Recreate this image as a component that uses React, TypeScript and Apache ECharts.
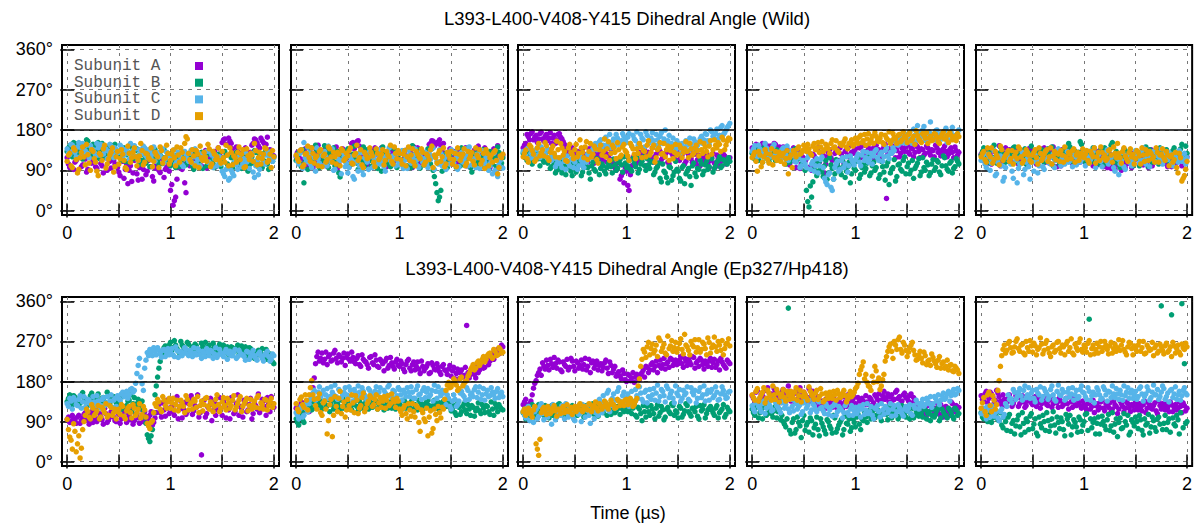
import React, { useEffect, useRef } from "react";
import * as echarts from "echarts";

// ---------- texts / categories ----------
const TITLES = [
  "L393-L400-V408-Y415 Dihedral Angle (Wild)",
  "L393-L400-V408-Y415 Dihedral Angle (Ep327/Hp418)",
];
const X_NAME = "Time (\u00b5s)";
const SUBUNITS = ["Subunit A", "Subunit B", "Subunit C", "Subunit D"];
const COLORS = ["#9400d3", "#009e73", "#56b4e9", "#e69f00"];
const X_TICKS = [0, 0.5, 1, 1.5, 2];
const X_LABELS = [0, 1, 2];
const Y_TICKS = [0, 90, 180, 270, 360];
const REF_ANGLE = 180;
const TIME_STEP = 0.025; // µs between samples; "...2" arrays are the samples half a step later

// ---------- Wild, panel 1 ----------
const w1A = [118, 96, 130, 108, 88, 125, 102, 115, 92, 135, 110, 98, 122, 105, 84, 118, 128, 95, 112, 100,
  86, 118, 72, 104, 90, 65, 112, 82, 96, 70, 108, 88, 124, 76, 95, 102, 85, 114, 92, 100,
  45, 12, 30, 96, 118, 104, 40, 122, 108, 96, 130, 112, 100, 125, 95, 118, 108, 132, 115, 126,
  152, 160, 146, 155, 138, 120, 132, 110, 124, 140, 118, 130, 150, 158, 145, 162, 152, 148, 128, 116, 122];
const w1A2 = [104, 124, 92, 112, 136, 98, 120, 86, 128, 106, 116, 94, 132, 100, 122, 90, 110, 126, 104, 96,
  78, 110, 92, 60, 100, 84, 118, 68, 104, 92, 80, 112, 98, 66, 106, 90, 118, 74, 96, 88,
  58, 22, 70, 110, 92, 62, 124, 100, 114, 128, 106, 120, 96, 134, 112, 104, 122, 98, 140, 118,
  158, 148, 162, 150, 126, 142, 114, 128, 106, 134, 124, 146, 160, 152, 140, 156, 148, 164, 136, 124];
const w1B = [132, 145, 120, 150, 128, 138, 115, 142, 155, 130, 148, 125, 152, 136, 118, 140, 128, 146, 122, 135,
  130, 112, 140, 125, 108, 132, 118, 138, 104, 126, 115, 130, 98, 120, 136, 110, 124, 105, 118, 128,
  100, 112, 96, 120, 106, 118, 102, 125, 110, 92, 120, 104, 130, 115, 100, 126, 112, 96, 122, 108,
  118, 132, 104, 125, 95, 114, 128, 100, 120, 110, 88, 124, 106, 130, 98, 118, 112, 126, 92, 115, 120];
const w1B2 = [140, 124, 152, 134, 118, 146, 128, 158, 136, 122, 144, 132, 116, 150, 126, 142, 134, 120, 148, 130,
  122, 138, 110, 128, 144, 116, 134, 122, 112, 140, 106, 124, 132, 114, 128, 102, 120, 136, 110, 126,
  118, 106, 124, 98, 114, 130, 108, 120, 100, 126, 112, 118, 94, 122, 108, 132, 104, 118, 126, 98,
  110, 124, 96, 118, 106, 130, 112, 94, 126, 116, 102, 120, 134, 108, 124, 96, 130, 104, 118, 110];
const w1C = [138, 125, 146, 130, 142, 120, 150, 134, 128, 145, 136, 122, 140, 148, 126, 138, 132, 144, 118, 136,
  130, 142, 124, 138, 115, 132, 145, 120, 136, 128, 140, 118, 134, 126, 110, 130, 122, 138, 116, 128,
  112, 125, 104, 130, 118, 98, 126, 110, 135, 120, 105, 128, 114, 122, 132, 108, 124, 116, 100, 120,
  88, 76, 95, 72, 84, 110, 92, 125, 105, 130, 115, 120, 86, 100, 80, 118, 108, 124, 112, 132, 118];
const w1C2 = [128, 148, 134, 120, 152, 140, 126, 146, 118, 138, 130, 150, 124, 142, 134, 116, 148, 126, 140, 130,
  146, 120, 136, 128, 150, 124, 138, 112, 130, 144, 122, 136, 116, 142, 126, 120, 134, 108, 130, 122,
  118, 136, 110, 124, 102, 132, 116, 128, 106, 138, 114, 100, 126, 118, 108, 130, 96, 124, 112, 104,
  82, 92, 68, 90, 78, 102, 120, 98, 116, 108, 94, 128, 74, 112, 92, 122, 104, 130, 118, 110];
const w1D = [110, 128, 96, 135, 84, 118, 142, 102, 125, 90, 132, 108, 78, 124, 138, 95, 115, 130, 86, 120,
  104, 136, 112, 92, 128, 118, 140, 100, 122, 134, 108, 126, 114, 98, 130, 120, 142, 106, 118, 128,
  112, 135, 100, 124, 140, 116, 165, 128, 108, 122, 134, 96, 118, 130, 110, 138, 104, 126, 120, 112,
  132, 108, 124, 140, 102, 118, 130, 114, 136, 98, 122, 128, 110, 134, 118, 104, 126, 138, 112, 96, 120];
const w1D2 = [124, 100, 140, 114, 92, 130, 120, 148, 106, 136, 116, 88, 128, 112, 146, 104, 124, 140, 98, 132,
  116, 126, 96, 144, 108, 130, 120, 112, 150, 102, 128, 118, 140, 110, 124, 96, 134, 116, 146, 104,
  126, 118, 142, 108, 130, 150, 160, 114, 136, 100, 126, 144, 112, 120, 148, 98, 132, 114, 140, 106,
  118, 146, 100, 130, 122, 108, 142, 126, 96, 138, 114, 124, 150, 102, 130, 116, 140, 108, 126, 134];

// ---------- Wild, panel 2 ----------
const w2A = [120, 108, 132, 115, 98, 128, 140, 112, 104, 125, 118, 135, 102, 122, 110, 130, 95, 126, 138, 114,
  106, 124, 152, 148, 156, 130, 112, 120, 100, 135, 118, 126, 108, 140, 115, 98, 124, 132, 110, 120,
  128, 104, 118, 136, 112, 96, 125, 140, 108, 122, 130, 116, 150, 155, 148, 153, 146, 150, 120, 110,
  118, 132, 105, 124, 138, 112, 100, 128, 116, 135, 122, 108, 126, 140, 114, 96, 130, 118, 145, 112, 124];
const w2A2 = [130, 116, 104, 138, 124, 112, 96, 130, 146, 108, 122, 100, 136, 116, 128, 142, 106, 118, 124, 132,
  98, 150, 138, 154, 144, 118, 134, 106, 126, 112, 140, 104, 120, 132, 110, 126, 102, 138, 124, 116,
  108, 132, 122, 98, 128, 142, 112, 120, 134, 104, 126, 148, 156, 144, 152, 158, 132, 114, 126, 138,
  104, 120, 132, 110, 126, 140, 118, 96, 130, 112, 144, 120, 106, 132, 124, 110, 138, 98, 126, 118];
const w2B = [112, 130, 98, 62, 125, 140, 108, 118, 135, 96, 122, 145, 104, 128, 114, 100, 132, 75, 120, 110,
  138, 102, 126, 116, 92, 130, 142, 108, 118, 98, 124, 136, 110, 88, 128, 115, 104, 140, 120, 96,
  126, 112, 134, 100, 118, 145, 108, 122, 95, 130, 114, 138, 104, 90, 60, 22, 45, 118, 128, 106,
  134, 112, 96, 124, 140, 102, 118, 130, 86, 122, 108, 136, 114, 98, 126, 132, 104, 120, 142, 110, 118];
const w2B2 = [120, 104, 136, 110, 92, 128, 116, 146, 102, 124, 112, 134, 96, 118, 140, 108, 84, 126, 114, 132,
  100, 120, 144, 106, 128, 112, 98, 136, 122, 110, 132, 94, 120, 142, 108, 126, 98, 116, 134, 112,
  104, 128, 118, 140, 96, 124, 110, 136, 116, 102, 126, 118, 138, 76, 40, 30, 88, 112, 96, 124,
  108, 130, 118, 100, 126, 112, 140, 96, 114, 128, 104, 120, 136, 110, 92, 124, 116, 98, 130, 106];
const w2C = [122, 104, 136, 152, 110, 128, 96, 118, 140, 106, 124, 132, 100, 115, 138, 92, 126, 112, 130, 98,
  84, 120, 76, 108, 88, 130, 80, 114, 92, 126, 118, 104, 136, 110, 98, 122, 140, 106, 116, 128,
  102, 134, 112, 94, 126, 118, 138, 100, 122, 108, 130, 96, 114, 140, 120, 104, 128, 110, 92, 124,
  136, 106, 118, 98, 130, 114, 122, 142, 102, 116, 126, 94, 134, 108, 120, 100, 82, 90, 76, 112, 95];
const w2C2 = [110, 128, 94, 118, 142, 104, 124, 88, 116, 132, 100, 120, 144, 108, 90, 126, 114, 82, 120, 106,
  96, 112, 70, 124, 100, 90, 118, 108, 132, 96, 112, 126, 104, 118, 88, 130, 112, 122, 100, 110,
  128, 94, 120, 136, 106, 124, 112, 96, 132, 116, 104, 128, 120, 92, 110, 136, 100, 118, 126, 104,
  114, 130, 92, 120, 108, 138, 100, 126, 112, 96, 122, 134, 104, 118, 90, 110, 128, 86, 102, 120];
const w2D = [124, 110, 136, 102, 128, 118, 140, 106, 122, 132, 98, 126, 114, 138, 108, 120, 130, 100, 134, 116,
  122, 140, 104, 128, 112, 136, 96, 124, 118, 130, 108, 138, 114, 126, 102, 132, 120, 110, 142, 116,
  128, 104, 134, 120, 112, 138, 100, 126, 116, 130, 108, 122, 136, 96, 118, 128, 110, 140, 104, 124,
  132, 114, 98, 126, 120, 138, 106, 116, 130, 102, 124, 136, 112, 94, 128, 118, 108, 134, 82, 122, 126];
const w2D2 = [116, 134, 98, 126, 144, 110, 128, 118, 100, 136, 122, 108, 142, 120, 130, 104, 126, 138, 112, 128,
  134, 106, 124, 146, 118, 102, 130, 116, 140, 122, 98, 128, 118, 136, 112, 124, 146, 104, 128, 134,
  114, 126, 100, 142, 124, 108, 132, 120, 138, 102, 126, 114, 144, 124, 106, 134, 120, 98, 130, 116,
  104, 128, 140, 112, 126, 100, 132, 122, 110, 140, 118, 104, 128, 136, 100, 124, 130, 112, 96, 118];

// ---------- Wild, panel 3 ----------
const w3A = [140, 150, 165, 172, 158, 168, 160, 175, 155, 170, 162, 150, 168, 158, 172, 160, 148, 135, 128, 140,
  120, 132, 115, 138, 125, 108, 130, 142, 118, 126, 135, 112, 128, 120, 138, 104, 90, 115, 78, 62,
  88, 45, 100, 122, 110, 130, 118, 136, 125, 112, 140, 120, 106, 132, 118, 126, 108, 135, 122, 114,
  128, 120, 138, 110, 126, 116, 132, 104, 124, 118, 112, 128, 96, 118, 106, 124, 100, 115, 122, 108, 118];
const w3A2 = [146, 170, 158, 176, 164, 152, 172, 160, 166, 156, 174, 162, 150, 170, 164, 154, 140, 126, 132, 118,
  128, 110, 134, 122, 116, 138, 120, 106, 130, 116, 124, 140, 108, 126, 114, 96, 106, 70, 84, 96,
  56, 80, 118, 104, 128, 112, 124, 100, 130, 118, 108, 126, 138, 114, 120, 130, 104, 128, 116, 136,
  112, 124, 104, 130, 120, 108, 126, 114, 100, 124, 118, 106, 112, 128, 98, 116, 110, 126, 104, 114];
const w3B = [128, 118, 135, 122, 110, 130, 116, 124, 108, 120, 112, 98, 105, 90, 116, 84, 102, 95, 110, 78,
  100, 92, 115, 86, 104, 96, 70, 108, 88, 112, 94, 100, 82, 106, 98, 115, 90, 108, 102, 120,
  96, 112, 88, 106, 118, 92, 110, 100, 116, 94, 108, 86, 98, 72, 104, 84, 62, 96, 78, 110,
  88, 66, 100, 82, 94, 56, 106, 76, 92, 104, 88, 110, 98, 116, 94, 108, 120, 100, 112, 104, 110];
const w3B2 = [122, 112, 128, 104, 118, 124, 100, 114, 128, 106, 94, 112, 84, 100, 92, 110, 80, 98, 88, 104,
  86, 108, 78, 96, 112, 84, 100, 92, 116, 80, 104, 88, 96, 110, 84, 102, 94, 114, 86, 106,
  100, 92, 116, 98, 84, 104, 120, 90, 102, 110, 80, 94, 106, 64, 88, 74, 98, 68, 86, 92,
  72, 96, 60, 88, 76, 100, 84, 94, 112, 80, 102, 92, 118, 86, 100, 112, 96, 114, 106, 118];
const w3C = [132, 122, 140, 128, 118, 136, 125, 142, 130, 120, 134, 112, 126, 104, 118, 96, 110, 122, 100, 115,
  108, 92, 120, 104, 112, 126, 118, 138, 150, 142, 158, 146, 164, 152, 140, 160, 170, 148, 156, 166,
  152, 172, 144, 160, 176, 150, 162, 142, 168, 154, 174, 146, 158, 166, 150, 180, 156, 144, 162, 136,
  150, 128, 142, 156, 134, 148, 160, 140, 152, 166, 158, 170, 148, 176, 162, 182, 168, 190, 174, 186, 195];
const w3C2 = [126, 138, 116, 134, 124, 140, 118, 132, 126, 138, 120, 116, 98, 112, 104, 118, 92, 106, 114, 96,
  118, 100, 112, 96, 108, 122, 130, 144, 136, 154, 140, 160, 146, 170, 154, 144, 162, 152, 172, 158,
  164, 150, 168, 156, 146, 170, 158, 176, 150, 162, 156, 170, 148, 174, 160, 152, 168, 150, 142, 156,
  140, 150, 134, 146, 162, 138, 154, 146, 160, 150, 172, 156, 180, 166, 172, 160, 186, 170, 180, 190];
const w3D = [120, 135, 108, 142, 126, 115, 150, 130, 122, 145, 112, 138, 128, 155, 118, 140, 132, 110, 148, 125,
  136, 120, 158, 130, 142, 114, 150, 126, 138, 106, 146, 132, 120, 154, 128, 140, 116, 136, 124, 148,
  130, 112, 144, 126, 138, 150, 118, 132, 146, 124, 140, 108, 136, 152, 128, 120, 144, 134, 116, 148,
  126, 140, 130, 154, 118, 138, 128, 146, 122, 136, 150, 132, 144, 126, 158, 140, 148, 164, 136, 155, 160];
const w3D2 = [128, 116, 146, 134, 110, 140, 122, 136, 152, 118, 130, 144, 120, 136, 150, 124, 112, 140, 130, 116,
  148, 128, 140, 118, 154, 132, 120, 144, 114, 136, 124, 160, 138, 112, 146, 130, 152, 120, 142, 134,
  122, 150, 138, 116, 128, 142, 134, 120, 156, 130, 146, 118, 140, 126, 150, 136, 112, 142, 130, 124,
  146, 118, 138, 132, 150, 124, 140, 134, 154, 128, 142, 120, 156, 136, 146, 152, 132, 158, 146, 162];

// ---------- Wild, panel 4 ----------
const w4A = [140, 128, 146, 134, 150, 122, 138, 144, 130, 148, 126, 136, 142, 118, 132, 110, 140, 96, 126, 104,
  134, 116, 128, 90, 122, 138, 108, 130, 84, 120, 136, 112, 128, 100, 140, 118, 132, 124, 145, 128,
  138, 120, 142, 132, 126, 140, 134, 118, 146, 136, 130, 142, 27, 138, 128, 144, 134, 120, 140, 132,
  146, 126, 138, 130, 142, 118, 136, 128, 140, 124, 134, 146, 130, 122, 138, 132, 126, 140, 118, 134, 130];
const w4A2 = [134, 148, 124, 140, 132, 146, 128, 136, 150, 120, 142, 130, 124, 138, 102, 128, 116, 134, 94, 120,
  110, 132, 98, 126, 114, 140, 88, 124, 104, 130, 118, 96, 136, 112, 126, 106, 138, 120, 130, 134,
  126, 140, 118, 146, 132, 124, 138, 144, 130, 120, 136, 148, 126, 132, 140, 118, 144, 128, 136, 142,
  130, 140, 120, 146, 132, 138, 124, 144, 130, 136, 120, 140, 134, 128, 144, 120, 136, 130, 142, 124];
const w4B = [128, 115, 140, 122, 108, 134, 126, 118, 142, 112, 130, 120, 136, 104, 126, 116, 132, 110, 122, 100,
  108, 45, 8, 30, 92, 78, 110, 86, 100, 70, 118, 94, 82, 106, 88, 112, 74, 98, 62, 104,
  90, 116, 80, 102, 94, 120, 84, 108, 96, 72, 110, 86, 100, 58, 92, 114, 76, 104, 88, 120,
  98, 82, 112, 94, 106, 78, 118, 90, 102, 84, 114, 96, 108, 80, 122, 100, 88, 110, 94, 116, 104];
const w4B2 = [120, 134, 112, 128, 140, 118, 110, 130, 124, 136, 114, 128, 118, 132, 108, 124, 138, 114, 126, 106,
  90, 20, 55, 64, 104, 88, 94, 76, 112, 84, 102, 70, 114, 96, 80, 100, 88, 108, 82, 94,
  110, 72, 96, 86, 106, 78, 100, 90, 116, 80, 98, 68, 108, 84, 96, 66, 102, 92, 112, 82,
  106, 90, 72, 100, 116, 86, 96, 108, 78, 104, 90, 112, 86, 100, 118, 92, 106, 84, 98, 110];
const w4C = [132, 145, 120, 138, 128, 150, 116, 136, 142, 124, 130, 118, 140, 126, 112, 134, 122, 108, 118, 100,
  112, 96, 124, 104, 88, 116, 100, 120, 72, 58, 84, 45, 96, 110, 92, 118, 104, 86, 122, 108,
  114, 126, 100, 132, 118, 108, 128, 122, 136, 112, 130, 120, 140, 116, 128, 134, 148, 160, 152, 172,
  158, 176, 150, 168, 190, 162, 180, 156, 170, 198, 164, 178, 154, 172, 166, 184, 158, 176, 168, 162, 180];
const w4C2 = [138, 126, 146, 122, 134, 140, 128, 120, 148, 130, 124, 136, 118, 144, 120, 128, 110, 126, 96, 112,
  104, 118, 92, 110, 100, 84, 114, 96, 64, 80, 52, 70, 104, 88, 112, 96, 120, 100, 114, 102,
  120, 108, 124, 112, 130, 116, 104, 132, 118, 126, 110, 134, 122, 130, 140, 154, 146, 166, 156, 150,
  170, 160, 182, 156, 174, 166, 188, 160, 176, 170, 158, 180, 168, 160, 178, 152, 170, 186, 164, 172];
const w4D = [118, 130, 88, 124, 108, 136, 114, 126, 102, 132, 120, 110, 128, 116, 82, 124, 134, 120, 142, 128,
  146, 132, 138, 124, 150, 140, 130, 154, 136, 144, 128, 158, 142, 134, 150, 146, 160, 138, 152, 144,
  162, 150, 168, 156, 146, 172, 158, 150, 166, 154, 170, 148, 162, 176, 156, 164, 150, 170, 158, 166,
  152, 174, 160, 148, 168, 156, 172, 162, 150, 166, 158, 170, 154, 164, 176, 160, 152, 168, 162, 156, 165];
const w4D2 = [124, 110, 132, 98, 120, 128, 106, 138, 118, 112, 130, 122, 104, 134, 118, 96, 128, 138, 126, 134,
  140, 148, 128, 144, 136, 152, 142, 132, 148, 138, 150, 140, 156, 130, 146, 154, 142, 150, 158, 148,
  156, 164, 152, 170, 160, 150, 166, 174, 156, 162, 152, 168, 158, 150, 172, 160, 168, 154, 176, 162,
  170, 156, 166, 178, 160, 152, 168, 174, 162, 156, 172, 164, 150, 170, 160, 168, 174, 158, 166, 172];

// ---------- Wild, panel 5 ----------
const w5A = [126, 112, 138, 120, 104, 132, 118, 145, 110, 128, 122, 136, 106, 124, 140, 114, 130, 118, 102, 126,
  134, 110, 122, 138, 116, 108, 128, 120, 142, 112, 126, 100, 132, 118, 124, 136, 110, 128, 120, 114,
  122, 130, 108, 124, 116, 102, 134, 120, 112, 96, 126, 104, 92, 118, 100, 110, 95, 124, 106, 128,
  118, 130, 112, 102, 124, 96, 136, 114, 108, 126, 120, 132, 104, 118, 98, 124, 112, 128, 100, 116, 120];
const w5A2 = [118, 130, 106, 124, 136, 112, 128, 100, 122, 140, 116, 108, 130, 120, 104, 134, 112, 126, 138, 116,
  122, 104, 130, 112, 140, 120, 106, 132, 118, 98, 124, 136, 110, 128, 116, 104, 130, 122, 108, 134,
  114, 126, 120, 100, 132, 112, 124, 98, 118, 108, 94, 116, 102, 124, 90, 114, 104, 120, 96, 112,
  126, 104, 120, 132, 108, 118, 100, 126, 114, 136, 106, 122, 98, 116, 130, 104, 120, 110, 124, 108];
const w5B = [124, 140, 112, 130, 118, 146, 106, 128, 136, 120, 110, 132, 124, 142, 116, 104, 128, 138, 112, 126,
  118, 134, 108, 130, 122, 114, 138, 126, 100, 132, 120, 112, 128, 136, 150, 118, 124, 106, 130, 148,
  116, 124, 132, 110, 126, 118, 104, 130, 140, 114, 122, 152, 108, 126, 96, 118, 134, 112, 124, 100,
  130, 116, 108, 126, 142, 98, 120, 132, 114, 104, 128, 118, 136, 110, 124, 140, 116, 130, 148, 122, 128];
const w5B2 = [132, 118, 128, 106, 138, 120, 114, 142, 126, 108, 130, 118, 140, 110, 126, 134, 120, 104, 130, 144,
  112, 126, 118, 136, 108, 128, 120, 142, 116, 124, 104, 134, 118, 128, 142, 110, 132, 120, 154, 126,
  108, 130, 118, 140, 114, 124, 136, 102, 126, 118, 146, 112, 132, 104, 124, 138, 116, 128, 108, 120,
  124, 100, 132, 114, 120, 136, 108, 126, 118, 140, 112, 130, 122, 106, 134, 126, 112, 138, 120, 144];
const w5C = [112, 128, 96, 120, 106, 134, 82, 118, 100, 74, 126, 110, 88, 122, 62, 104, 130, 92, 116, 70,
  108, 124, 84, 114, 98, 132, 118, 104, 126, 112, 138, 100, 122, 116, 108, 130, 120, 102, 126, 114,
  118, 132, 106, 124, 140, 112, 128, 98, 120, 136, 110, 124, 88, 116, 104, 130, 92, 118, 126, 108,
  134, 120, 112, 140, 104, 126, 116, 132, 108, 124, 138, 112, 120, 130, 106, 126, 116, 134, 110, 128, 118];
const w5C2 = [120, 104, 126, 90, 116, 78, 108, 122, 66, 96, 118, 104, 72, 112, 94, 120, 80, 108, 98, 124,
  88, 110, 100, 126, 92, 114, 106, 120, 96, 128, 110, 118, 104, 132, 112, 98, 124, 116, 108, 128,
  100, 120, 114, 132, 96, 124, 110, 116, 128, 104, 118, 96, 124, 80, 112, 98, 122, 108, 100, 118,
  126, 106, 132, 114, 120, 98, 128, 110, 122, 116, 104, 130, 114, 124, 100, 120, 108, 126, 116, 104];
const w5D = [120, 132, 108, 126, 140, 114, 124, 102, 136, 118, 128, 110, 134, 122, 116, 138, 106, 126, 130, 112,
  124, 136, 104, 128, 118, 132, 110, 140, 122, 114, 126, 134, 108, 120, 130, 116, 138, 124, 112, 128,
  118, 134, 106, 126, 140, 120, 112, 130, 124, 116, 136, 108, 128, 150, 118, 132, 122, 110, 138, 126,
  116, 130, 104, 124, 136, 112, 128, 120, 140, 108, 126, 118, 132, 100, 124, 114, 96, 128, 66, 78, 110];
const w5D2 = [128, 114, 140, 120, 106, 132, 118, 144, 112, 124, 134, 116, 104, 130, 142, 120, 112, 136, 124, 108,
  130, 118, 140, 112, 126, 136, 120, 104, 132, 128, 110, 124, 142, 114, 126, 134, 108, 130, 120, 138,
  126, 112, 132, 120, 106, 130, 142, 118, 112, 134, 124, 142, 118, 128, 106, 140, 116, 130, 120, 104,
  134, 122, 140, 110, 126, 132, 116, 108, 130, 124, 138, 112, 124, 120, 108, 130, 84, 118, 72, 92];

// ---------- Ep327/Hp418, panel 1 ----------
const e1A = [95, 88, 104, 92, 100, 86, 98, 110, 92, 104, 88, 116, 96, 102, 84, 108, 94, 112, 100, 90,
  106, 96, 114, 88, 102, 118, 92, 108, 86, 100, 112, 94, 104, 82, 98, 124, 110, 132, 102, 120,
  140, 112, 128, 96, 136, 118, 106, 130, 148, 114, 122, 100, 15, 138, 108, 126, 92, 134, 116, 144,
  104, 128, 120, 96, 138, 112, 150, 124, 100, 132, 116, 142, 108, 126, 152, 118, 136, 104, 130, 146, 122];
const e1A2 = [100, 90, 96, 86, 104, 92, 106, 96, 84, 112, 98, 90, 108, 94, 120, 88, 100, 106, 92, 114,
  86, 104, 98, 110, 94, 84, 106, 98, 118, 90, 102, 96, 112, 88, 110, 128, 100, 116, 138, 108,
  124, 104, 146, 118, 98, 132, 112, 140, 106, 126, 150, 110, 130, 100, 122, 142, 114, 104, 128, 120,
  136, 98, 116, 144, 108, 130, 104, 120, 138, 112, 128, 96, 134, 118, 110, 140, 124, 144, 112, 130];
const e1B = [135, 150, 128, 145, 140, 132, 155, 138, 126, 148, 142, 130, 152, 136, 144, 128, 150, 138, 146, 132,
  140, 118, 148, 126, 138, 112, 144, 130, 120, 136, 100, 60, 45, 72, 150, 190, 225, 248, 260, 252,
  268, 256, 262, 248, 270, 258, 250, 264, 254, 246, 260, 252, 266, 248, 256, 262, 244, 258, 250, 264,
  254, 246, 258, 242, 256, 250, 262, 244, 252, 258, 240, 254, 248, 236, 250, 244, 238, 252, 232, 226, 220];
const e1B2 = [142, 130, 148, 136, 126, 150, 144, 132, 140, 154, 136, 146, 128, 142, 134, 156, 130, 144, 140, 126,
  132, 146, 124, 136, 150, 130, 122, 140, 128, 114, 86, 52, 58, 110, 170, 210, 240, 256, 244, 262,
  250, 272, 254, 244, 262, 252, 268, 246, 258, 264, 250, 242, 258, 268, 244, 252, 266, 248, 256, 246,
  262, 250, 240, 258, 246, 254, 240, 260, 246, 236, 256, 242, 232, 246, 240, 254, 234, 230, 242, 224];
const e1C = [130, 142, 118, 138, 126, 148, 134, 122, 140, 130, 146, 126, 136, 120, 144, 132, 128, 150, 138, 124,
  142, 152, 146, 158, 150, 164, 160, 198, 232, 175, 210, 245, 252, 238, 248, 256, 242, 250, 236, 254,
  246, 240, 258, 234, 248, 244, 252, 238, 246, 256, 240, 250, 232, 244, 254, 238, 248, 242, 234, 252,
  240, 246, 230, 248, 238, 252, 236, 244, 240, 228, 246, 236, 250, 232, 242, 238, 226, 244, 236, 230, 238];
const e1C2 = [124, 136, 144, 128, 140, 120, 146, 132, 138, 124, 134, 148, 128, 140, 126, 146, 136, 122, 142, 148,
  138, 156, 150, 142, 162, 156, 176, 216, 190, 160, 228, 238, 246, 256, 240, 250, 234, 252, 246, 240,
  254, 236, 250, 246, 238, 256, 242, 250, 236, 244, 254, 240, 248, 236, 246, 250, 232, 256, 240, 244,
  236, 252, 242, 238, 246, 232, 250, 240, 236, 248, 230, 244, 238, 228, 246, 232, 240, 248, 226, 242];
const e1D = [95, 55, 28, 68, 40, 8, 72, 104, 112, 96, 120, 108, 126, 100, 116, 130, 104, 122, 110, 96,
  118, 128, 102, 114, 124, 98, 120, 110, 130, 106, 116, 86, 74, 92, 130, 140, 118, 146, 126, 134,
  120, 142, 128, 114, 138, 124, 148, 116, 132, 140, 122, 110, 136, 128, 144, 118, 130, 124, 150, 112,
  134, 126, 142, 120, 138, 116, 130, 146, 124, 136, 114, 140, 128, 122, 148, 132, 118, 138, 126, 142, 130];
const e1D2 = [72, 48, 85, 22, 58, 30, 90, 118, 100, 128, 104, 114, 96, 122, 110, 100, 126, 104, 118, 112,
  106, 124, 96, 120, 110, 128, 104, 118, 98, 124, 100, 80, 88, 110, 124, 134, 112, 138, 120, 142,
  132, 116, 138, 124, 132, 110, 140, 128, 118, 136, 146, 126, 114, 142, 124, 134, 112, 140, 128, 120,
  144, 116, 132, 126, 148, 122, 138, 112, 130, 142, 126, 118, 136, 144, 120, 128, 140, 116, 134, 122];

// ---------- Ep327/Hp418, panel 2 ----------
const e2A = [120, 108, 134, 116, 128, 112, 150, 188, 236, 226, 244, 230, 218, 240, 228, 250, 222, 236, 232, 216,
  242, 226, 234, 220, 238, 214, 230, 224, 210, 236, 218, 228, 212, 226, 204, 232, 216, 222, 208, 230,
  214, 220, 202, 226, 210, 218, 206, 224, 198, 214, 210, 220, 200, 216, 206, 212, 196, 218, 204, 208,
  192, 212, 198, 186, 206, 194, 306, 188, 202, 196, 214, 206, 222, 212, 232, 226, 244, 238, 252, 248, 258];
const e2A2 = [114, 126, 106, 132, 120, 138, 166, 220, 246, 232, 222, 246, 236, 226, 244, 232, 240, 224, 244, 234,
  230, 246, 224, 232, 218, 240, 226, 218, 234, 222, 240, 214, 230, 220, 226, 210, 234, 214, 224, 216,
  226, 208, 218, 230, 204, 224, 214, 208, 226, 204, 214, 198, 222, 208, 220, 202, 214, 206, 196, 216,
  204, 186, 208, 200, 190, 212, 200, 196, 210, 188, 200, 218, 210, 228, 218, 236, 230, 246, 242, 262];
const e2B = [96, 82, 110, 88, 120, 128, 116, 136, 124, 140, 118, 132, 126, 112, 138, 122, 130, 116, 142, 126,
  134, 120, 128, 138, 114, 130, 124, 140, 118, 132, 126, 136, 122, 128, 116, 134, 130, 120, 138, 124,
  132, 118, 136, 126, 122, 140, 128, 116, 134, 124, 130, 138, 120, 126, 132, 118, 128, 136, 124, 130,
  114, 126, 104, 122, 112, 130, 108, 118, 126, 102, 120, 114, 128, 110, 124, 106, 118, 130, 112, 122, 116];
const e2B2 = [88, 104, 94, 116, 112, 124, 134, 120, 130, 126, 136, 122, 140, 128, 118, 132, 124, 138, 120, 130,
  126, 116, 134, 124, 136, 120, 130, 126, 140, 122, 132, 118, 126, 136, 124, 120, 134, 128, 118, 130,
  126, 138, 120, 130, 134, 118, 124, 138, 128, 120, 134, 126, 118, 138, 124, 132, 120, 128, 140, 122,
  120, 110, 130, 106, 124, 116, 128, 104, 122, 114, 132, 108, 120, 126, 112, 134, 104, 122, 128, 118];
const e2C = [110, 96, 124, 104, 118, 130, 148, 160, 142, 168, 152, 138, 164, 146, 156, 172, 140, 158, 150, 166,
  144, 160, 136, 154, 170, 148, 158, 142, 164, 152, 146, 168, 156, 140, 160, 150, 172, 144, 158, 148,
  162, 138, 154, 166, 146, 156, 142, 170, 152, 160, 144, 164, 150, 136, 158, 168, 148, 154, 128, 142,
  118, 150, 124, 136, 158, 146, 166, 140, 154, 162, 144, 168, 150, 138, 160, 148, 156, 142, 164, 152, 146];
const e2C2 = [104, 118, 100, 128, 112, 140, 154, 138, 156, 146, 160, 150, 142, 168, 150, 146, 162, 144, 156, 150,
  168, 148, 162, 142, 156, 166, 150, 136, 160, 146, 158, 152, 166, 144, 154, 168, 150, 160, 142, 166,
  150, 160, 146, 156, 168, 142, 162, 150, 140, 166, 156, 146, 160, 172, 142, 156, 160, 140, 150, 124,
  136, 140, 128, 154, 150, 138, 160, 150, 146, 168, 156, 140, 164, 152, 146, 166, 150, 158, 144, 156];
const e2D = [130, 112, 145, 122, 138, 150, 182, 140, 118, 152, 104, 136, 62, 128, 56, 146, 112, 158, 124, 100,
  140, 116, 132, 148, 108, 126, 154, 120, 136, 144, 128, 150, 132, 122, 146, 138, 126, 152, 134, 142,
  118, 104, 126, 96, 116, 130, 100, 122, 68, 110, 90, 58, 114, 74, 106, 124, 98, 118, 160, 178,
  168, 186, 172, 164, 190, 176, 182, 198, 212, 206, 222, 216, 230, 224, 238, 244, 232, 248, 240, 252, 246];
const e2D2 = [118, 140, 128, 150, 116, 166, 150, 126, 142, 110, 132, 118, 92, 140, 104, 124, 142, 108, 134, 116,
  126, 150, 110, 138, 120, 144, 112, 130, 148, 124, 140, 118, 144, 136, 120, 148, 130, 140, 122, 136,
  112, 120, 108, 130, 102, 112, 126, 88, 116, 96, 120, 100, 64, 118, 92, 110, 122, 140, 172, 166,
  176, 182, 160, 186, 170, 180, 192, 206, 218, 210, 226, 222, 236, 230, 242, 236, 252, 238, 256, 244];

// ---------- Ep327/Hp418, panel 3 ----------
const e3A = [128, 140, 122, 136, 165, 182, 200, 194, 214, 228, 206, 220, 234, 210, 224, 202, 218, 230, 212, 226,
  204, 222, 216, 208, 232, 214, 200, 226, 218, 206, 220, 212, 228, 198, 216, 208, 192, 202, 186, 198,
  180, 194, 188, 178, 196, 184, 200, 190, 212, 206, 222, 214, 200, 228, 218, 208, 224, 232, 216, 228,
  220, 236, 212, 226, 230, 218, 234, 222, 214, 228, 208, 220, 226, 212, 230, 218, 206, 224, 214, 228, 220];
const e3A2 = [134, 126, 130, 150, 176, 194, 208, 222, 208, 216, 230, 212, 220, 228, 206, 224, 214, 206, 232, 214,
  226, 210, 228, 218, 206, 230, 222, 210, 226, 216, 204, 222, 210, 224, 200, 214, 198, 192, 206, 184,
  196, 182, 200, 190, 186, 196, 206, 214, 200, 218, 206, 226, 216, 210, 232, 220, 212, 230, 222, 218,
  228, 220, 232, 216, 224, 236, 210, 226, 232, 218, 226, 214, 232, 222, 212, 226, 232, 218, 210, 224];
const e3B = [110, 96, 124, 102, 116, 108, 128, 114, 104, 120, 98, 126, 112, 106, 130, 118, 100, 122, 110, 126,
  114, 104, 128, 118, 108, 122, 112, 130, 116, 102, 124, 110, 132, 118, 106, 126, 114, 120, 128, 112,
  124, 116, 108, 130, 100, 118, 92, 112, 124, 104, 118, 96, 128, 110, 116, 100, 122, 108, 126, 114,
  98, 120, 106, 130, 112, 102, 118, 124, 96, 114, 128, 108, 120, 116, 104, 126, 110, 118, 100, 122, 112];
const e3B2 = [118, 104, 112, 128, 100, 122, 110, 120, 126, 108, 116, 104, 122, 128, 110, 112, 126, 116, 104, 118,
  122, 110, 116, 100, 126, 114, 120, 106, 124, 118, 112, 128, 104, 120, 116, 110, 124, 106, 118, 120,
  112, 128, 120, 104, 122, 108, 126, 100, 112, 126, 108, 120, 102, 124, 94, 118, 112, 130, 104, 110,
  124, 100, 114, 126, 108, 120, 112, 102, 126, 118, 98, 116, 124, 110, 120, 98, 114, 128, 106, 116];
const e3C = [112, 98, 124, 106, 88, 118, 102, 130, 94, 114, 108, 84, 122, 100, 116, 126, 96, 110, 120, 104,
  92, 118, 108, 128, 100, 114, 86, 124, 110, 104, 132, 148, 118, 160, 126, 152, 138, 166, 130, 156,
  144, 124, 158, 136, 148, 168, 140, 156, 132, 162, 150, 138, 172, 146, 158, 134, 164, 152, 142, 170,
  148, 136, 160, 154, 140, 166, 150, 132, 158, 144, 170, 152, 138, 162, 148, 156, 140, 168, 150, 144, 158];
const e3C2 = [104, 120, 92, 116, 112, 96, 124, 108, 120, 100, 118, 128, 94, 112, 104, 118, 130, 100, 112, 96,
  122, 106, 90, 116, 124, 104, 118, 96, 114, 140, 110, 130, 154, 112, 142, 120, 158, 136, 148, 128,
  152, 140, 130, 162, 142, 154, 134, 160, 146, 140, 164, 154, 136, 162, 148, 170, 144, 158, 132, 154,
  162, 142, 150, 168, 136, 156, 160, 142, 166, 150, 136, 160, 156, 144, 168, 138, 152, 160, 142, 156];
const e3D = [112, 104, 120, 108, 116, 40, 14, 110, 122, 106, 118, 112, 126, 102, 116, 120, 110, 128, 114, 106,
  124, 118, 130, 112, 122, 116, 128, 120, 134, 114, 126, 124, 132, 118, 138, 128, 122, 136, 130, 126,
  140, 132, 136, 128, 142, 186, 230, 246, 258, 240, 264, 250, 236, 272, 256, 244, 282, 260, 248, 268,
  254, 276, 242, 262, 250, 270, 258, 246, 274, 252, 264, 240, 268, 256, 280, 248, 262, 272, 254, 266, 260];
const e3D2 = [118, 108, 114, 100, 124, 28, 50, 118, 112, 124, 108, 120, 114, 118, 108, 124, 116, 112, 122, 118,
  112, 126, 116, 124, 118, 130, 112, 126, 120, 130, 118, 136, 122, 128, 130, 120, 140, 126, 134, 138,
  128, 142, 124, 136, 170, 214, 252, 234, 268, 254, 244, 262, 278, 248, 264, 240, 254, 272, 256, 246,
  266, 252, 286, 258, 240, 262, 274, 256, 246, 268, 254, 278, 244, 262, 258, 270, 250, 240, 264, 276];

// ---------- Ep327/Hp418, panel 4 ----------
const e4A = [148, 136, 160, 142, 154, 132, 166, 146, 140, 158, 150, 138, 162, 144, 170, 136, 152, 160, 142, 148,
  156, 134, 164, 146, 128, 140, 124, 136, 118, 132, 146, 122, 138, 128, 142, 120, 134, 150, 126, 140,
  130, 144, 124, 136, 148, 128, 140, 132, 146, 152, 138, 158, 144, 134, 150, 140, 160, 146, 136, 154,
  142, 148, 132, 138, 118, 126, 108, 122, 112, 130, 104, 120, 116, 128, 100, 124, 110, 134, 118, 126, 122];
const e4A2 = [142, 156, 134, 150, 144, 160, 138, 152, 164, 146, 132, 156, 150, 140, 158, 146, 134, 154, 166, 140,
  150, 144, 136, 158, 132, 146, 120, 130, 140, 126, 134, 144, 122, 136, 130, 146, 124, 138, 132, 146,
  124, 136, 142, 128, 134, 144, 126, 150, 140, 134, 148, 140, 152, 146, 138, 156, 142, 132, 150, 144,
  136, 152, 144, 126, 112, 130, 116, 104, 126, 118, 110, 132, 106, 122, 114, 120, 104, 130, 112, 120];
const e4B = [118, 104, 126, 110, 96, 122, 108, 116, 100, 124, 112, 94, 90, 78, 345, 62, 96, 72, 88, 54,
  104, 82, 66, 92, 76, 100, 58, 86, 70, 94, 80, 64, 98, 74, 88, 60, 102, 84, 68, 96,
  78, 106, 72, 92, 100, 114, 96, 120, 104, 110, 92, 116, 106, 124, 98, 112, 118, 102, 126, 108,
  114, 96, 120, 104, 110, 124, 100, 116, 108, 92, 118, 106, 122, 98, 112, 104, 120, 110, 96, 116, 108];
const e4B2 = [110, 122, 98, 116, 126, 104, 120, 108, 114, 98, 118, 104, 84, 96, 70, 88, 64, 100, 80, 92,
  70, 88, 98, 60, 84, 72, 96, 78, 62, 90, 74, 104, 66, 82, 94, 72, 86, 96, 76, 88,
  100, 84, 96, 110, 88, 104, 112, 98, 116, 100, 106, 120, 94, 108, 116, 104, 96, 120, 112, 100,
  118, 106, 98, 114, 102, 108, 118, 96, 112, 104, 100, 114, 92, 118, 106, 98, 116, 102, 120, 104];
const e4C = [126, 112, 138, 120, 130, 108, 142, 124, 116, 134, 122, 110, 136, 128, 118, 140, 114, 130, 124, 106,
  132, 120, 138, 116, 126, 112, 134, 122, 108, 124, 116, 102, 130, 112, 120, 98, 126, 110, 118, 104,
  122, 114, 100, 128, 116, 108, 124, 96, 118, 112, 130, 106, 120, 116, 102, 126, 112, 122, 108, 118,
  114, 128, 104, 120, 132, 124, 140, 128, 136, 146, 130, 142, 150, 138, 154, 144, 158, 148, 162, 152, 160];
const e4C2 = [118, 132, 124, 112, 136, 120, 130, 114, 140, 126, 116, 132, 120, 138, 110, 124, 136, 118, 128, 112,
  140, 126, 110, 130, 118, 136, 120, 114, 130, 106, 122, 126, 104, 124, 116, 110, 132, 104, 126, 114,
  108, 124, 118, 106, 130, 112, 104, 120, 126, 100, 116, 124, 110, 130, 118, 104, 128, 114, 102, 124,
  120, 108, 126, 138, 118, 132, 124, 142, 130, 122, 146, 136, 128, 148, 140, 152, 136, 156, 150, 164];
const e4D = [150, 138, 164, 144, 156, 132, 160, 148, 170, 140, 154, 146, 162, 136, 150, 158, 142, 166, 148, 134,
  156, 144, 168, 150, 140, 160, 146, 152, 138, 148, 156, 142, 150, 160, 144, 154, 148, 140, 158, 150,
  164, 176, 206, 224, 196, 170, 160, 178, 204, 188, 170, 196, 236, 258, 248, 270, 252, 280, 244, 262,
  236, 256, 268, 240, 230, 248, 222, 238, 226, 216, 234, 220, 228, 210, 224, 214, 206, 218, 202, 210, 198];
const e4D2 = [144, 158, 136, 150, 166, 142, 154, 138, 150, 162, 134, 152, 144, 158, 140, 148, 156, 138, 160, 146,
  150, 138, 158, 146, 154, 140, 164, 134, 154, 142, 148, 158, 138, 152, 146, 160, 134, 150, 146, 156,
  168, 196, 214, 186, 178, 168, 192, 214, 180, 162, 184, 226, 248, 264, 232, 262, 274, 252, 268, 250,
  246, 262, 250, 228, 240, 232, 246, 218, 228, 242, 226, 212, 236, 220, 210, 228, 216, 204, 214, 206];

// ---------- Ep327/Hp418, panel 5 ----------
const e5A = [148, 136, 158, 142, 152, 130, 160, 146, 128, 140, 134, 150, 124, 138, 144, 130, 148, 122, 136, 142,
  128, 146, 132, 120, 140, 134, 126, 144, 130, 138, 122, 136, 128, 142, 118, 134, 146, 126, 132, 120,
  128, 116, 134, 124, 110, 130, 122, 138, 114, 126, 132, 118, 128, 108, 136, 124, 120, 130, 112, 126,
  134, 116, 122, 128, 110, 132, 120, 126, 114, 136, 118, 124, 130, 112, 128, 122, 116, 134, 110, 126, 120];
const e5A2 = [140, 152, 132, 156, 146, 138, 154, 136, 150, 126, 142, 136, 130, 148, 124, 142, 134, 126, 144, 132,
  136, 124, 142, 130, 146, 128, 138, 122, 140, 132, 144, 124, 136, 130, 146, 122, 128, 140, 126, 136,
  122, 130, 118, 138, 126, 116, 134, 120, 130, 122, 112, 136, 124, 118, 130, 112, 134, 120, 128, 116,
  124, 130, 114, 136, 120, 128, 118, 132, 108, 126, 130, 116, 122, 134, 112, 128, 120, 124, 132, 114];
const e5B = [110, 96, 120, 104, 88, 116, 100, 92, 82, 98, 70, 106, 86, 62, 94, 78, 110, 66, 90, 102,
  74, 96, 58, 84, 104, 70, 92, 80, 112, 64, 88, 98, 72, 106, 84, 60, 94, 78, 100, 68,
  90, 108, 320, 76, 96, 86, 62, 102, 80, 94, 70, 110, 84, 56, 98, 76, 90, 104, 66, 88,
  100, 74, 94, 60, 82, 106, 78, 92, 68, 100, 350, 86, 72, 96, 330, 84, 104, 62, 355, 220, 90];
const e5B2 = [100, 116, 90, 112, 98, 106, 94, 110, 76, 90, 100, 68, 92, 80, 104, 60, 86, 96, 72, 108,
  84, 64, 100, 76, 90, 110, 68, 96, 82, 100, 74, 90, 58, 96, 104, 78, 88, 66, 94, 82,
  106, 70, 96, 88, 62, 100, 84, 90, 72, 106, 80, 66, 96, 88, 74, 108, 82, 60, 94, 80,
  90, 104, 70, 96, 86, 64, 100, 76, 96, 84, 72, 104, 88, 66, 98, 80, 94, 110, 76, 86];
const e5C = [108, 120, 96, 116, 126, 102, 114, 92, 118, 106, 124, 140, 132, 156, 146, 164, 138, 170, 150, 142,
  160, 134, 154, 168, 146, 158, 140, 162, 150, 136, 172, 148, 156, 142, 164, 152, 138, 160, 146, 170,
  154, 140, 158, 148, 132, 166, 150, 142, 162, 136, 156, 170, 144, 152, 160, 138, 148, 166, 154, 142,
  158, 146, 168, 136, 152, 160, 144, 172, 150, 140, 156, 164, 146, 134, 162, 152, 140, 158, 148, 166, 150];
const e5C2 = [114, 104, 124, 100, 120, 110, 98, 112, 100, 130, 150, 142, 162, 140, 156, 148, 160, 144, 166, 154,
  142, 162, 150, 138, 164, 152, 146, 170, 140, 158, 150, 162, 138, 156, 146, 166, 150, 142, 162, 156,
  146, 166, 138, 156, 150, 160, 140, 168, 150, 158, 144, 152, 164, 140, 150, 170, 156, 142, 160, 150,
  140, 164, 152, 146, 168, 138, 156, 150, 162, 146, 170, 140, 154, 160, 144, 168, 150, 138, 160, 154];
const e5D = [120, 144, 104, 156, 112, 138, 128, 182, 238, 262, 250, 270, 244, 258, 276, 248, 264, 240, 256, 272,
  246, 260, 252, 278, 242, 266, 254, 236, 262, 250, 270, 244, 258, 264, 248, 276, 240, 256, 268, 252,
  262, 246, 272, 254, 242, 266, 258, 248, 270, 252, 260, 244, 264, 256, 250, 272, 246, 258, 266, 240,
  254, 262, 248, 270, 244, 256, 252, 238, 262, 248, 258, 242, 266, 250, 236, 260, 254, 246, 264, 252, 258];
const e5D2 = [132, 112, 150, 126, 148, 118, 160, 214, 252, 244, 266, 256, 246, 270, 254, 262, 244, 270, 248, 260,
  266, 240, 256, 264, 250, 272, 244, 258, 246, 268, 254, 262, 240, 270, 256, 244, 264, 250, 276, 246,
  256, 266, 240, 262, 252, 244, 270, 256, 262, 242, 268, 254, 248, 274, 262, 252, 240, 268, 254, 260,
  248, 270, 256, 242, 262, 250, 268, 256, 244, 264, 250, 260, 246, 258, 268, 244, 262, 240, 256, 266];

const PANELS = [
  [w1A, w1B, w1C, w1D], [w2A, w2B, w2C, w2D], [w3A, w3B, w3C, w3D], [w4A, w4B, w4C, w4D], [w5A, w5B, w5C, w5D],
  [e1A, e1B, e1C, e1D], [e2A, e2B, e2C, e2D], [e3A, e3B, e3C, e3D], [e4A, e4B, e4C, e4D], [e5A, e5B, e5C, e5D],
];
const PANELS_MID = [
  [w1A2, w1B2, w1C2, w1D2], [w2A2, w2B2, w2C2, w2D2], [w3A2, w3B2, w3C2, w3D2], [w4A2, w4B2, w4C2, w4D2], [w5A2, w5B2, w5C2, w5D2],
  [e1A2, e1B2, e1C2, e1D2], [e2A2, e2B2, e2C2, e2D2], [e3A2, e3B2, e3C2, e3D2], [e4A2, e4B2, e4C2, e4D2], [e5A2, e5B2, e5C2, e5D2],
];

// ---------- layout ----------
const FONT = "'Liberation Sans', Arial, Helvetica, sans-serif";
const MONO = "'Liberation Mono', 'DejaVu Sans Mono', monospace";
const FRAME_LEFT = [62, 291, 518, 747, 976];
const FRAME_W = 217;
const ROW_TOP = [45, 297];
const ROW_H = [170, 169];
const X_MIN = -0.05, X_MAX = 2.05;
const Y_MIN = -10, Y_MAX = 370;

function buildOption(): any {
  const grid: any[] = [];
  const xAxis: any[] = [];
  const yAxis: any[] = [];
  const series: any[] = [];
  const tick = (vals: number[]) => ({
    show: true, inside: true, length: 7, customValues: vals,
    lineStyle: { color: "#000", width: 1.5 },
  });
  PANELS.forEach((panel, p) => {
    const r = Math.floor(p / 5), c = p % 5;
    grid.push({
      left: FRAME_LEFT[c], top: ROW_TOP[r], width: FRAME_W, height: ROW_H[r],
      show: true, borderColor: "#000", borderWidth: 2, backgroundColor: "rgba(0,0,0,0)",
    });
    xAxis.push({
      gridIndex: p, type: "value", position: "bottom", min: X_MIN, max: X_MAX,
      axisLine: { show: false }, axisTick: tick(X_TICKS),
      axisLabel: { show: true, customValues: X_LABELS, margin: 9, fontSize: 18, color: "#000", fontFamily: FONT, formatter: (v: number) => String(v) },
      splitLine: { show: true, lineStyle: { color: "#777", type: [3, 5], width: 1 } },
    });
    xAxis.push({
      gridIndex: p, type: "value", position: "top", min: X_MIN, max: X_MAX,
      axisLine: { show: false }, axisTick: tick(X_TICKS), axisLabel: { show: false }, splitLine: { show: false },
    });
    yAxis.push({
      gridIndex: p, type: "value", position: "left", min: Y_MIN, max: Y_MAX,
      axisLine: { show: false }, axisTick: tick(Y_TICKS),
      axisLabel: { show: c === 0, customValues: Y_TICKS, margin: 9, fontSize: 18, color: "#000", fontFamily: FONT, formatter: (v: number) => v + "\u00b0" },
      splitLine: { show: true, lineStyle: { color: "#777", type: [4, 5], width: 1 } },
    });
    yAxis.push({
      gridIndex: p, type: "value", position: "right", min: Y_MIN, max: Y_MAX,
      axisLine: { show: false }, axisTick: tick(Y_TICKS), axisLabel: { show: false }, splitLine: { show: false },
    });
    panel.forEach((vals, s) => {
      const mid = PANELS_MID[p][s];
      const data: number[][] = [];
      vals.forEach((v, i) => {
        data.push([i * TIME_STEP, v]);
        if (i < mid.length) data.push([(i + 0.5) * TIME_STEP, mid[i]]);
      });
      const ser: any = {
        type: "scatter", name: SUBUNITS[s], xAxisIndex: p * 2, yAxisIndex: p * 2,
        symbol: "circle", symbolSize: 5.5, itemStyle: { color: COLORS[s], opacity: 1 },
        data, silent: true,
      };
      if (s === 3) {
        ser.markLine = {
          silent: true, symbol: ["none", "none"], label: { show: false },
          lineStyle: { color: "#000", width: 1.5, type: "solid" },
          data: [{ yAxis: REF_ANGLE }],
        };
      }
      series.push(ser);
    });
  });

  const legendChildren: any[] = [
    { type: "rect", shape: { x: 69, y: 52, width: 164, height: 70 }, style: { fill: "#fff" } },
  ];
  SUBUNITS.forEach((name, i) => {
    const cy = 66 + i * 16.7;
    legendChildren.push({
      type: "text", x: 74, y: cy,
      style: { text: name, fontSize: 16, fontFamily: MONO, fill: "#555", align: "left", verticalAlign: "middle" },
    });
    legendChildren.push({
      type: "rect", shape: { x: 195, y: cy - 4, width: 8, height: 8 }, style: { fill: COLORS[i] },
    });
  });

  return {
    animation: false,
    backgroundColor: "#fff",
    grid, xAxis, yAxis, series,
    graphic: [
      { type: "text", x: 627, y: 18, style: { text: TITLES[0], fontSize: 18.5, fontFamily: FONT, fill: "#000", align: "center", verticalAlign: "middle" } },
      { type: "text", x: 627, y: 268, style: { text: TITLES[1], fontSize: 18.5, fontFamily: FONT, fill: "#000", align: "center", verticalAlign: "middle" } },
      { type: "text", x: 628, y: 513, style: { text: X_NAME, fontSize: 18, fontFamily: FONT, fill: "#000", align: "center", verticalAlign: "middle" } },
      { type: "group", z: 100, children: legendChildren },
    ],
  };
}

export default function App() {
  const ref = useRef<HTMLDivElement>(null);
  useEffect(() => {
    if (!ref.current) return;
    const chart = echarts.init(ref.current, undefined, { renderer: "svg" });
    chart.setOption(buildOption());
    return () => chart.dispose();
  }, []);
  return (
    <div
      ref={ref}
      style={{ position: "absolute", left: 0, top: 0, width: 1195, height: 527, background: "#fff" }}
    />
  );
}
